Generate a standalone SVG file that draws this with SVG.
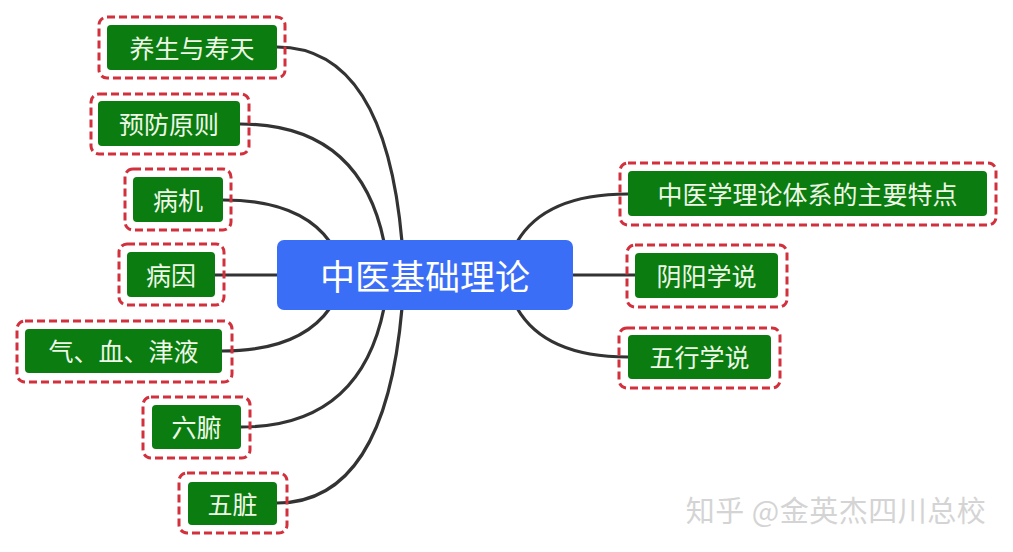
<svg xmlns="http://www.w3.org/2000/svg" width="1013" height="552" viewBox="0 0 1013 552">
<style>
.c{fill:none;stroke:#333;stroke-width:3.2;stroke-linecap:round}
.g{fill:#0a7c10}
.d{fill:none;stroke:#d2303c;stroke-width:3;stroke-dasharray:8 4}
.t{font-family:"Noto Sans CJK SC","Noto Sans",sans-serif;font-size:25px;fill:#eef8e6;text-anchor:middle;dominant-baseline:central}
</style>
<rect width="1013" height="552" fill="#fff"/>
<g id="connectors">
<path class="c" d="M277,47 Q385,47 402,242"/>
<path class="c" d="M240,124 Q360,124 384,242"/>
<path class="c" d="M223,200 Q300,200 330,242"/>
<path class="c" d="M215,275 L280,275"/>
<path class="c" d="M222,351 Q300,351 330,308"/>
<path class="c" d="M241,427 Q360,427 384,308"/>
<path class="c" d="M277,503 Q385,503 402,308"/>
<path class="c" d="M628,194 Q545,194 517,242"/>
<path class="c" d="M635,275 L570,275"/>
<path class="c" d="M628,357 Q545,357 517,308"/>
</g>
<g id="center">
<rect x="277" y="240" width="296" height="70" rx="7" fill="#3b6ef6"/>
<text x="425" y="274" class="t" style="font-size:35px;fill:#fff">中医基础理论</text>
</g>
<g id="n1"><rect class="d" x="99" y="17" width="186" height="61" rx="8"/><rect class="g" x="107" y="25" width="170" height="45" rx="4"/><text class="t" x="192" y="46.5">养生与寿天</text></g>
<g id="n2"><rect class="d" x="91" y="94" width="158" height="60" rx="8"/><rect class="g" x="98" y="101" width="142" height="45" rx="4"/><text class="t" x="169" y="122.5">预防原则</text></g>
<g id="n3"><rect class="d" x="125" y="169" width="106" height="61" rx="8"/><rect class="g" x="133" y="177" width="90" height="45" rx="4"/><text class="t" x="178" y="198.5">病机</text></g>
<g id="n4"><rect class="d" x="119" y="244" width="105" height="61" rx="8"/><rect class="g" x="127" y="252" width="88" height="45" rx="4"/><text class="t" x="171" y="273.5">病因</text></g>
<g id="n5"><rect class="d" x="17" y="321" width="215" height="61" rx="8"/><rect class="g" x="25" y="329" width="197" height="44" rx="4"/><text class="t" x="123.5" y="350">气、血、津液</text></g>
<g id="n6"><rect class="d" x="143" y="397" width="107" height="61" rx="8"/><rect class="g" x="152" y="405" width="89" height="44" rx="4"/><text class="t" x="196.5" y="426">六腑</text></g>
<g id="n7"><rect class="d" x="179" y="473" width="108" height="60" rx="8"/><rect class="g" x="188" y="482" width="89" height="43" rx="4"/><text class="t" x="232.5" y="502.5">五脏</text></g>
<g id="n8"><rect class="d" x="620" y="163" width="376" height="62" rx="8"/><rect class="g" x="628" y="171" width="359" height="45" rx="4"/><text class="t" x="807.5" y="192.5">中医学理论体系的主要特点</text></g>
<g id="n9"><rect class="d" x="627" y="245" width="160" height="62" rx="8"/><rect class="g" x="635" y="253" width="143" height="45" rx="4"/><text class="t" x="706.5" y="274.5">阴阳学说</text></g>
<g id="n10"><rect class="d" x="619" y="328" width="161" height="60" rx="8"/><rect class="g" x="628" y="335" width="143" height="44" rx="4"/><text class="t" x="699.5" y="356">五行学说</text></g>
<text x="836" y="509" style="font-family:'Noto Sans CJK SC',sans-serif;font-size:29px;letter-spacing:0.5px;fill:#d4d4d4;text-anchor:middle;dominant-baseline:central">知乎 @金英杰四川总校</text>
</svg>
